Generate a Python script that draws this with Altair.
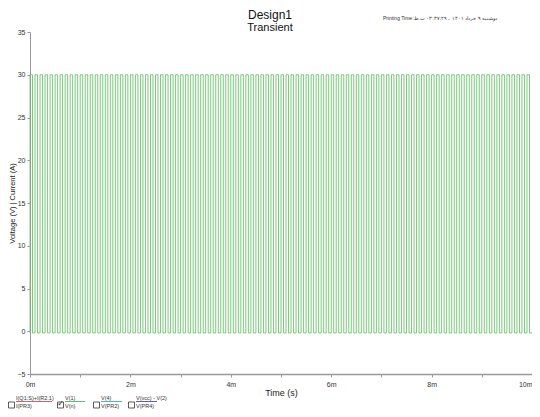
import altair as alt
import pandas as pd

# ---- data ----
cycle_count = 100          # pulses across 0..10 ms
period_ms = 0.1            # 10 kHz
high_level = [30.0]        # V
low_level = [-0.2]         # V
duty = 0.5
x_ticks = [0, 1, 2, 3, 4, 5, 6, 7, 8, 9, 10]
y_ticks = [-5, 0, 5, 10, 15, 20, 25, 30, 35]
legend_top = ["I(Q1:S)+I(R2:1)", "V(1)", "V(4)", "V(vcc) - V(2)"]
legend_bottom = ["I(PR3)", "V(n)", "V(PR2)", "V(PR4)"]
legend_colors = ["#e05a6a", "#5cbf6a", "#4cb8b0", "#5a5ad0"]
legend_checked = [False, True, False, False]
title_main = "Design1"
title_sub = "Transient"
print_time = "Printing Time:دوشنبه ۹ خرداد ۱۴۰۱ ، ۰۳:۳۷:۲۹ ب.ظ"

# ---- waveform table (square pulse train) ----
rows = []
i = 0
for k in range(cycle_count):
    t0 = k * period_ms
    t1 = t0 + duty * period_ms
    for t, v in [(t0, low_level[0]), (t0, high_level[0]), (t1, high_level[0]), (t1, low_level[0])]:
        rows.append({"t": t, "v": v, "i": i})
        i += 1
rows.append({"t": 10.0, "v": low_level[0], "i": i})
wave = pd.DataFrame(rows)

PL, PT, PR, PB = 22, 24, 0, 35
W, H = 524 - PL - PR, 342
FONT = "Liberation Sans"

line = alt.Chart(wave).mark_line(color="#6cc46c", strokeWidth=0.9, interpolate="linear").encode(
    x=alt.X("t:Q", scale=alt.Scale(domain=[0, 10], nice=False, zero=False),
            axis=alt.Axis(values=x_ticks, title="Time (s)", grid=False,
                          labelExpr="datum.value % 2 == 0 ? datum.value + 'm' : ''",
                          labelAlign={"condition": {"test": "datum.value == 10", "value": "right"},
                                      "value": "center"},
                          labelFontSize=7, labelColor="#333", labelFont=FONT,
                          titleFontSize=9, titleFont=FONT, titleFontWeight="normal", titleColor="#222",
                          titlePadding=1, tickSize=3, tickColor="#999",
                          domainColor="#999", domainWidth=1.5, labelPadding=3)),
    y=alt.Y("v:Q", scale=alt.Scale(domain=[-5, 35], nice=False, zero=False),
            axis=alt.Axis(values=y_ticks, title="Voltage (V) | Current (A)", grid=False,
                          labelFontSize=7, labelColor="#333", labelFont=FONT,
                          titleFontSize=7.5, titleFont=FONT, titleFontWeight="normal", titleColor="#222",
                          titlePadding=1, tickSize=3, tickColor="#999", labelPadding=2,
                          domainColor="#999", domainWidth=1)),
    order=alt.Order("i:Q"),
)

layers = [line]

one = pd.DataFrame({"a": [title_main], "b": [title_sub], "p": [print_time]})
tb = alt.Chart(one)
layers.append(tb.mark_text(fontSize=12, font=FONT, color="#111", align="center", baseline="middle")
              .encode(text="a:N", x=alt.value(240), y=alt.value(-17.5)))
layers.append(tb.mark_text(fontSize=11, font=FONT, color="#111", align="center", baseline="middle")
              .encode(text="b:N", x=alt.value(240), y=alt.value(-4)))
layers.append(tb.mark_text(fontSize=5, font=FONT, color="#333", align="center", baseline="middle")
              .encode(text="p:N", x=alt.value(410), y=alt.value(-14)))

# custom legend
item_x = [-14, 35, 71, 106]   # left edge of each item's text (chart px)
item_w = [36, 20, 21, 21]
for k in range(4):
    x0 = item_x[k]
    d = pd.DataFrame({"a": [legend_top[k]], "b": [legend_bottom[k]]})
    base = alt.Chart(d)
    layers.append(base.mark_text(fontSize=5.5, font=FONT, color="#333", align="left", baseline="middle")
                  .encode(text="a:N", x=alt.value(x0), y=alt.value(366)))
    layers.append(base.mark_text(fontSize=5.5, font=FONT, color="#333", align="left", baseline="middle")
                  .encode(text="b:N", x=alt.value(x0), y=alt.value(374)))
    layers.append(base.mark_rule(color=legend_colors[k], strokeWidth=1)
                  .encode(x=alt.value(x0), x2=alt.value(x0 + item_w[k]), y=alt.value(369.5)))
    layers.append(base.mark_rect(fill="white", stroke="#333", strokeWidth=0.8)
                  .encode(x=alt.value(x0 - 7.5), x2=alt.value(x0 - 1.5), y=alt.value(370), y2=alt.value(376)))
    if legend_checked[k]:
        layers.append(base.mark_text(text="✓", fontSize=8, font="DejaVu Sans", color="#111",
                                     align="center", baseline="middle")
                      .encode(x=alt.value(x0 - 4.5), y=alt.value(372)))

chart = alt.layer(*layers).properties(
    width=W, height=H,
    padding={"left": PL, "top": PT, "right": PR, "bottom": PB},
    autosize=alt.AutoSizeParams(type="none"),
).configure_view(stroke=None)

chart.save("out.html", embed_options={"renderer": "svg", "actions": False})
